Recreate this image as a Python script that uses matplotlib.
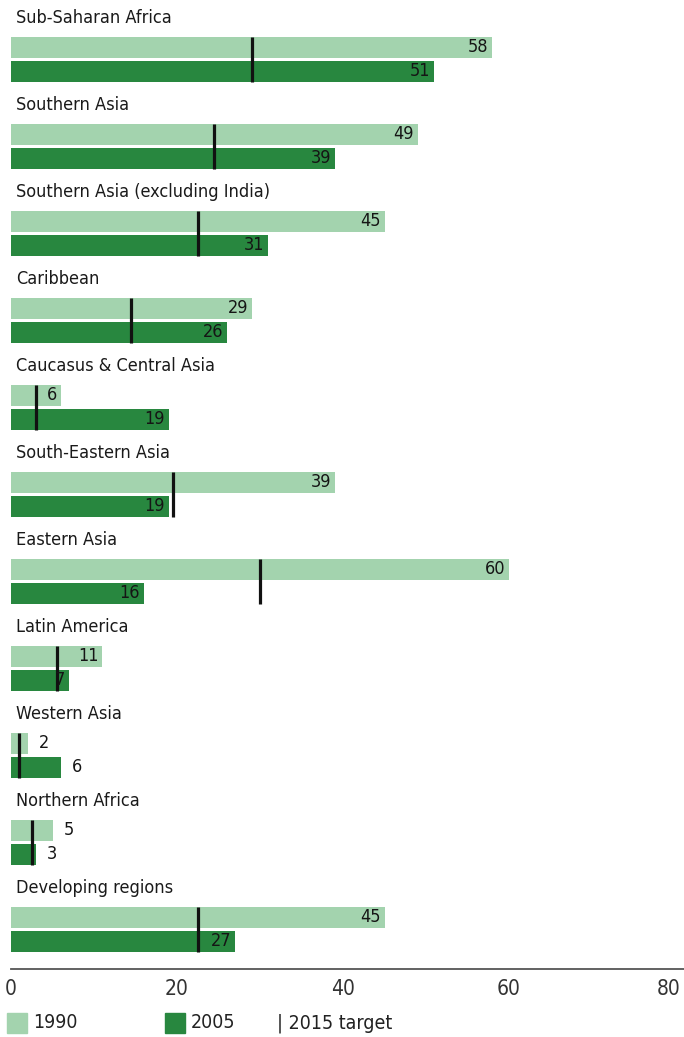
import matplotlib.pyplot as plt
from matplotlib.patches import Rectangle
from matplotlib.transforms import ScaledTranslation

regions = ["Sub-Saharan Africa", "Southern Asia", "Southern Asia (excluding India)",
           "Caribbean", "Caucasus & Central Asia", "South-Eastern Asia", "Eastern Asia",
           "Latin America", "Western Asia", "Northern Africa", "Developing regions"]
v1990 = [58, 49, 45, 29, 6, 39, 60, 11, 2, 5, 45]
v2005 = [51, 39, 31, 26, 19, 19, 16, 7, 6, 3, 27]
target_2015 = [29, 24.5, 22.5, 14.5, 3, 19.5, 30, 5.5, 1, 2.5, 22.5]
xticks = [0, 20, 40, 60, 80]

LIGHT = "#a3d3ae"
DARK = "#28873f"
plt.rcParams["font.family"] = ["DejaVu Sans"]
plt.rcParams["font.stretch"] = "condensed"

W, H = 684, 1037
fig = plt.figure(figsize=(W / 100, H / 100), dpi=100)

# axes: x from 11 px to the right edge, y from top down to the axis line at 969 px
ax = fig.add_axes([11 / W, (H - 969) / H, 673 / W, 969 / H])
ax.set_xlim(0, 673 / 8.3)
ax.set_ylim(10.93, -0.21)

bh = 0.24
for i, name in enumerate(regions):
    y_title, y_a, y_b = i, i + 0.335, i + 0.61
    ax.text(0.6, y_title, name, fontsize=13, va="center", ha="left", color="#1a1a1a")
    ax.barh(y_a, v1990[i], height=bh, color=LIGHT, left=0)
    ax.barh(y_b, v2005[i], height=bh, color=DARK, left=0)
    ax.plot([target_2015[i]] * 2, [y_a - bh / 2, y_b + bh / 2], color="#111111", lw=2.3,
            solid_capstyle="butt")
    for val, yy, thr in ((v1990[i], y_a, 6), (v2005[i], y_b, 7)):
        if val >= thr:
            ax.text(val - 0.45, yy, str(val), ha="right", va="center", fontsize=13,
                    fontweight="medium", color="#151515")
        else:
            ax.text(val + 1.3, yy, str(val), ha="left", va="center", fontsize=13,
                    color="#151515")

for s in ("top", "right", "left"):
    ax.spines[s].set_visible(False)
ax.spines["bottom"].set_color("#555555")
ax.spines["bottom"].set_linewidth(1.3)
ax.set_yticks([])
ax.set_xticks(xticks)
ax.set_xticklabels([str(t) for t in xticks], fontsize=15, color="#333333")
ax.tick_params(axis="x", length=0, pad=7)
# pull the last label in so it stays on the page
last = ax.get_xticklabels()[-1]
last.set_transform(last.get_transform() + ScaledTranslation(-6 / 100, 0, fig.dpi_scale_trans))

# legend row
ly = (H - 1023) / H
fig.patches.append(Rectangle((7 / W, ly - 10 / H), 20 / W, 20 / H, color=LIGHT,
                             transform=fig.transFigure, figure=fig))
fig.text(33 / W, ly, "1990", fontsize=14, va="center", color="#222222")
fig.patches.append(Rectangle((165 / W, ly - 10 / H), 20 / W, 20 / H, color=DARK,
                             transform=fig.transFigure, figure=fig))
fig.text(191 / W, ly, "2005", fontsize=14, va="center", color="#222222")
fig.text(277 / W, ly, "| 2015 target", fontsize=14, va="center", color="#222222")

fig.savefig("out.png", dpi=100)
